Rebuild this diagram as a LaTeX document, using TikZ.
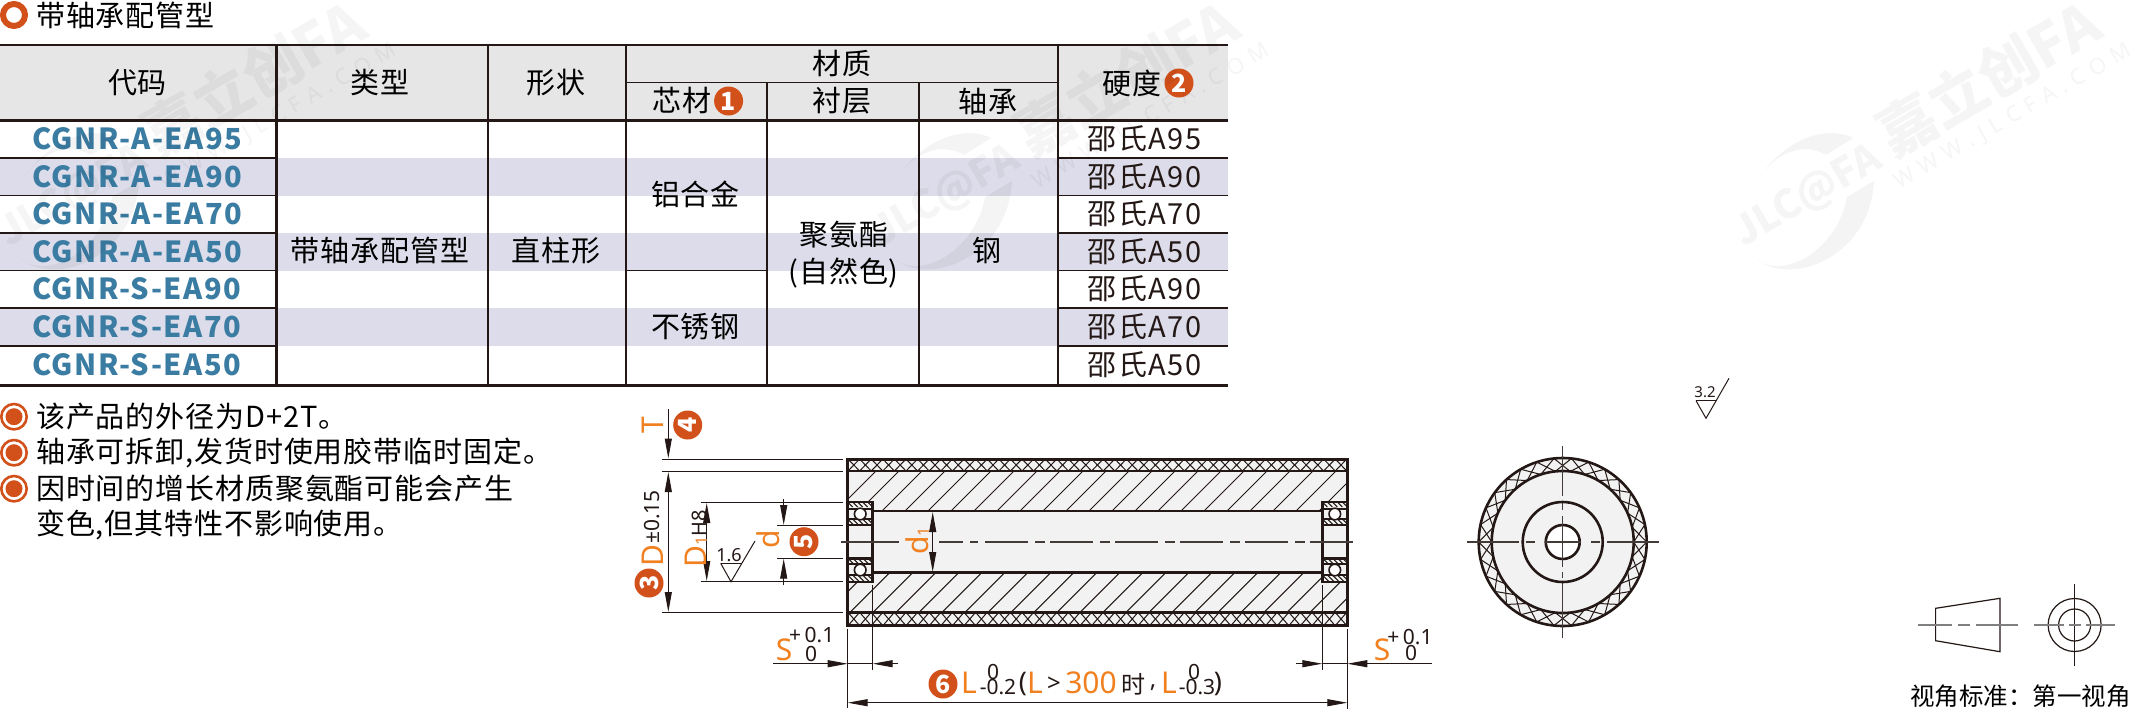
\documentclass[tikz,border=0pt]{standalone}
\usepackage{fontspec}
\usetikzlibrary{arrows.meta}
\setmainfont[LetterSpace=3]{Noto Sans CJK SC}
\newfontfamily\cjkplain{Noto Sans CJK SC}
\newfontfamily\lat{Noto Sans}
\newfontfamily\codef[LetterSpace=5]{Noto Sans CJK SC}
\newfontfamily\hardf[LetterSpace=5]{Noto Sans CJK SC}
\newfontfamily\wmspaced[LetterSpace=35]{Noto Sans}
\newcommand{\fsz}[1]{\fontsize{#1}{#1}\selectfont}
\definecolor{ink}{HTML}{231815}
\definecolor{headg}{HTML}{E6E6E6}
\definecolor{rowb}{HTML}{DCDCEA}
\definecolor{partg}{HTML}{F2F2F2}
\definecolor{badge}{HTML}{D2501A}
\definecolor{dimo}{HTML}{F08020}
\definecolor{codeb}{HTML}{3B7CA3}
\tikzset{
  cell/.style={font=\fsz{29},text=black,inner sep=0pt},
  hardcell/.style={font=\hardf\fsz{29},text=ink,inner sep=0pt},
  codecell/.style={font=\codef\bfseries\fsz{29},text=codeb,anchor=west,inner sep=0pt},
  note/.style={font=\fsz{29},text=black,anchor=west,inner sep=0pt},
  badgenum/.style={circle,fill=badge,text=white,minimum size=29pt,inner sep=0pt,font=\cjkplain\bfseries\fsz{25}},
  labelo/.style={font=\lat\fsz{30},text=dimo,inner sep=0pt},
  tol/.style={font=\lat\fsz{21},text=ink,inner sep=0pt},
  tblthin/.style={draw=ink,line width=1.4pt},
  tblbold/.style={draw=ink,line width=3pt},
  outline/.style={draw=ink,line width=2.6pt},
  hatchline/.style={draw=ink,line width=1pt},
  dimline/.style={draw=ink,line width=1pt,>={Triangle[length=20pt,width=7pt]}},
  centerl/.style={draw=ink!85,line width=1.2pt},
  wmtext/.style={text=black,text opacity=0.04,inner sep=0pt,rotate=30},
}
\newcommand{\wmark}[2]{%
  \begin{scope}[shift={(#2,0)}]
    \fill[black,fill opacity=0.045] (1753,188) .. controls (1777,143) and (1823,123) .. (1853,138) -- (1826,155) .. controls (1800,140) and (1770,155) .. (1753,188) -- cycle;
    \fill[black,fill opacity=0.045] (1752,255) .. controls (1785,290) and (1870,260) .. (1874,181) -- (1847,197) .. controls (1838,250) and (1780,285) .. (1752,255) -- cycle;
    \node[wmtext,font=\cjkplain\bfseries\fsz{40}] (wmlogo#1) at (1808,197) {JLC@FA};
    \node[wmtext,font=\cjkplain\bfseries\fsz{58}] (wmname#1) at (1988,78) {嘉立创FA};
    \node[wmtext,font=\wmspaced\fsz{22}] (wmurl#1) at (2013,117) {WWW.JLCFA.COM};
  \end{scope}}
\newcommand{\bearing}[2]{%
  % #1 left x, #2 right x
  \fill[partg] (#1,502) rectangle (#2,582);
  \begin{scope}
    \clip (#1,502) rectangle (#2,509) (#1,519) rectangle (#2,525) (#1,558.5) rectangle (#2,564) (#1,575) rectangle (#2,582);
    \foreach \k in {-2,...,14} {
      \draw[hatchline] ({#1+5*\k},502) -- ++(5,5);
      \draw[hatchline] ({#1+5*\k},509) -- ++(6,6);
      \draw[hatchline] ({#1+5*\k},519) -- ++(6,6);
      \draw[hatchline] ({#1+5*\k},558) -- ++(6,6);
      \draw[hatchline] ({#1+5*\k},575) -- ++(7,7);
    }
  \end{scope}
  \draw[draw=ink,line width=1.2pt] (#1,509) -- (#2,509) (#1,519) -- (#2,519) (#1,564) -- (#2,564) (#1,575) -- (#2,575);
  \draw[outline,fill=none] (#1,502) rectangle (#2,582);
  \draw[outline] (#1,525) -- (#2,525) (#1,558.7) -- (#2,558.7);
  \draw[draw=ink,line width=1.6pt,fill=white] ({(#1+#2)/2},514) circle[radius=5.8pt];
  \draw[draw=ink,line width=1.6pt,fill=white] ({(#1+#2)/2},570) circle[radius=5.8pt];
}
\begin{document}
\begin{tikzpicture}[x=1pt,y=-1pt]
\useasboundingbox (0,0) rectangle (2132,713);
\fill[white] (0,0) rectangle (2132,713);

% title
\draw[draw=badge,line width=6pt,fill=white] (14,15) circle[radius=11pt];
\node[note] (title) at (36,15) {带轴承配管型};

% table backgrounds
\fill[headg] (0,45) rectangle (1228,120);
\fill[rowb] (0,158) rectangle (1228,195.5);
\fill[rowb] (0,233) rectangle (1228,270.5);
\fill[rowb] (0,308) rectangle (1228,346);

% table lines
\foreach \y in {158,195.5,233,270.5,308,346} {
  \draw[tblthin] (0,\y) -- (276,\y);
  \draw[tblthin] (1058,\y) -- (1228,\y);
}
\draw[tblthin] (626,270.5) -- (767,270.5);
\draw[tblthin] (626,82.7) -- (1058,82.7);
\draw[tblthin] (488,45) -- (488,385);
\draw[tblthin] (626,45) -- (626,385);
\draw[tblthin] (767,82.7) -- (767,385);
\draw[tblthin] (919,82.7) -- (919,385);
\draw[tblthin] (1058,45) -- (1058,385);
\draw[tblbold] (276,45) -- (276,385);
\draw[draw=ink,line width=2.2pt] (0,45) -- (1228,45);
\draw[tblbold] (0,120) -- (1228,120);
\draw[tblbold] (0,385) -- (1228,385);

% header
\node[cell] (h1) at (137.5,82.7) {代码};
\node[cell] (h2) at (380,82.7) {类型};
\node[cell] (h3) at (556,82.7) {形状};
\node[cell] (h4) at (841.6,63.5) {材质};
\node[cell] (h5) at (682,100.7) {芯材};
\node[badgenum] (b1) at (728.6,101) {1};
\node[cell] (h6) at (841.6,101) {衬层};
\node[cell] (h7) at (988,101) {轴承};
\node[cell] (h8) at (1132,83) {硬度};
\node[badgenum] (b2) at (1179,83) {2};

% rows
\foreach \i/\y/\c/\h in {1/139/CGNR-A-EA95/A95,2/176.8/CGNR-A-EA90/A90,3/214/CGNR-A-EA70/A70,4/252/CGNR-A-EA50/A50,5/289/CGNR-S-EA90/A90,6/327/CGNR-S-EA70/A70,7/365/CGNR-S-EA50/A50} {
  \node[codecell] (code\i) at (32,\y) {\c};
  \node[hardcell] (hard\i) at (1144.5,\y-0.5) {邵氏\h};
}
\node[cell] (type) at (380,250.7) {带轴承配管型};
\node[cell] (shape) at (556,251) {直柱形};
\node[cell] (m1) at (695.5,194) {铝合金};
\node[cell] (m2) at (695.5,327) {不锈钢};
\node[cell] (m3) at (843.7,235) {聚氨酯};
\node[cell] (m4) at (843.7,273) {(自然色)};
\node[cell] (m5) at (987,250.7) {钢};

% notes
\foreach \y in {416.7,452.7,488.7} {
  \draw[draw=badge,line width=2.6pt,fill=white] (14,\y) circle[radius=12.7pt];
  \fill[badge] (14,\y) circle[radius=8.5pt];
}
\node[note] (n1) at (36,416.7) {该产品的外径为D+2T。};
\node[note] (n2) at (36,452.7) {轴承可拆卸,发货时使用胶带临时固定。};
\node[note] (n3) at (36,488.7) {因时间的增长材质聚氨酯可能会产生};
\node[note] (n4) at (36,525) {变色,但其特性不影响使用。};

% --- section view ---
\fill[partg] (847.7,459.3) rectangle (1347.3,625.7);
% rubber cross hatch
\begin{scope}
  \clip (847.7,459.3) rectangle (1347.3,471);
  \foreach \k in {0,...,43} {
    \draw[hatchline] ({848+11.6*\k},471) -- ++(11.6,-12);
    \draw[hatchline] ({848+11.6*\k},459) -- ++(11.6,12);
  }
\end{scope}
\begin{scope}
  \clip (847.7,612.3) rectangle (1347.3,625.7);
  \foreach \k in {0,...,43} {
    \draw[hatchline] ({848+11.6*\k},625.7) -- ++(11.6,-13.4);
    \draw[hatchline] ({848+11.6*\k},612.3) -- ++(11.6,13.4);
  }
\end{scope}
% core hatch
\begin{scope}
  \clip (847.7,471) rectangle (1347.3,511);
  \foreach \k in {-8,...,15} \draw[hatchline] ({1020+23*\k},511) -- ++(40,-40);
\end{scope}
\begin{scope}
  \clip (847.7,572.7) rectangle (1347.3,612.3);
  \foreach \k in {-8,...,15} \draw[hatchline] ({1011+23*\k},612.3) -- ++(40,-40);
\end{scope}
\bearing{847.7}{872.7}
\bearing{1322.3}{1347.3}
\draw[outline] (847.7,471) -- (1347.3,471) (847.7,612.3) -- (1347.3,612.3);
\draw[outline] (872.7,511) -- (1322.3,511) (872.7,572.7) -- (1322.3,572.7);
\draw[outline] (847.7,459.3) rectangle (1347.3,625.7);

% centre line
\draw[centerl] (841,542) -- (899,542) (939,542) -- (963,542) (970,542) -- (978,542);
\draw[centerl,dash pattern=on 43pt off 7pt on 10pt off 5pt] (985,542) -- (1353,542);

% dimensions
\foreach \y in {459.3,471,612.5} \draw[dimline] (661.7,\y) -- (843,\y);
\foreach \y in {502.5,581.7} \draw[dimline] (700.7,\y) -- (843,\y);
\foreach \y in {525,558.7} \draw[dimline] (777,\y) -- (843,\y);
\draw[dimline,->] (668.3,409) -- (668.3,458.5);
\draw[dimline,<->] (668.3,472) -- (668.3,612);
\draw[dimline,<->] (706.7,503) -- (706.7,581);
\draw[dimline,->] (783.7,499) -- (783.7,525);
\draw[dimline,->] (783.7,585) -- (783.7,558.7);
\draw[dimline,<->] (932.7,512) -- (932.7,572);

\draw[dimline] (847.7,628.7) -- (847.7,708);
\draw[dimline] (872.7,585) -- (872.7,670);
\draw[dimline] (1322.3,585) -- (1322.3,670);
\draw[dimline] (1347.3,629) -- (1347.3,709);
\draw[dimline,->] (773,663.7) -- (847.7,663.7);
\draw[dimline,->] (898,663.7) -- (872.7,663.7);
\draw[dimline] (847.7,663.7) -- (872.7,663.7);
\draw[dimline,->] (1296,663.7) -- (1322.3,663.7);
\draw[dimline,->] (1431.7,663.7) -- (1347.3,663.7);
\draw[dimline] (1322.3,663.7) -- (1347.3,663.7);
\draw[dimline,<->] (847.7,702.7) -- (1347.3,702.7);

% surface symbol 1.6
\draw[draw=ink,line width=1pt] (720.7,563.3) -- (741.7,563.3);
\draw[draw=ink,line width=1pt] (720.7,563.3) -- (731,581.7) -- (755,541);
\node[tol,font=\lat\fsz{18}] (r16) at (729,555) {1.6};

% labels
\node[labelo,rotate=90] (lT) at (653,425) {T};
\node[badgenum,rotate=90] (b4) at (687.7,425) {4};
\node[labelo,rotate=90,anchor=west] (lD) at (653,567) {D\kern1pt\raisebox{4pt}{\textcolor{ink}{\fsz{21}±0.15}}};
\node[badgenum,rotate=90] (b3) at (649,583) {3};
\node[labelo,rotate=90,anchor=west] (lD1) at (696,568) {D\raisebox{-1pt}{\fsz{16}1}\textcolor{ink}{\fsz{20}H8}};
\node[labelo,rotate=90] (ld) at (768,539) {d};
\node[badgenum,rotate=90] (b5) at (804,541.7) {5};
\node[labelo,rotate=90] (ld1) at (918,541) {d\raisebox{-1pt}{\fsz{16}1}};

\node[labelo] (S1) at (784,650) {S};
\node[tol] (S1a) at (811.7,635) {+\,0.1};
\node[tol] (S1b) at (811,654) {0};
\node[labelo] (S2) at (1382,650) {S};
\node[tol] (S2a) at (1410,636.7) {+\,0.1};
\node[tol] (S2b) at (1411,653) {0};

\node[badgenum] (b6) at (943,684) {6};
\node[labelo] (L1) at (969,683) {L};
\node[tol] (L1a) at (993,672) {0};
\node[tol] (L1b) at (998,687) {-0.2};
\node[tol,font=\lat\fsz{27}] (p1) at (1023,684) {(};
\node[labelo] (L2) at (1035,683) {L};
\node[tol,font=\lat\fsz{24}] (gt) at (1054,684) {>};
\node[labelo] (v300) at (1091,683) {300};
\node[tol,font=\cjkplain\fsz{24}] (shi) at (1133,684) {时};
\node[tol,font=\lat\fsz{24}] (comma) at (1153,688) {,};
\node[labelo] (L3) at (1169,683) {L};
\node[tol] (L3a) at (1194,672) {0};
\node[tol] (L3b) at (1197,687) {-0.3};
\node[tol,font=\lat\fsz{27}] (p2) at (1218,684) {)};

% surface symbol 3.2
\node[tol,font=\lat\fsz{15}] (r32) at (1705,392) {3.2};
\draw[draw=ink,line width=1pt] (1696,400.7) -- (1716.7,400.7);
\draw[draw=ink,line width=1pt] (1696,400.7) -- (1706,418.3) -- (1729,378.3);

% --- end view ---
\fill[partg] (1562.7,542) circle[radius=84pt];
\foreach \a in {0,12,...,348} {
  \draw[hatchline] ({1562.7+71*cos(\a)},{542+71*sin(\a)}) -- ({1562.7+84*cos(\a+12)},{542+84*sin(\a+12)});
  \draw[hatchline] ({1562.7+71*cos(\a)},{542+71*sin(\a)}) -- ({1562.7+84*cos(\a-12)},{542+84*sin(\a-12)});
}
\draw[outline] (1562.7,542) circle[radius=84pt];
\draw[outline] (1562.7,542) circle[radius=71pt];
\draw[outline] (1562.7,542) circle[radius=40pt];
\draw[outline,fill=white] (1562.7,542) circle[radius=17pt];
\draw[centerl] (1466.5,542) -- (1518.5,542) (1526,542) -- (1535,542) (1545,542) -- (1581,542) (1591,542) -- (1600,542) (1607,542) -- (1658.5,542);
\draw[centerl] (1562.7,446) -- (1562.7,496) (1562.7,503) -- (1562.7,510) (1562.7,516) -- (1562.7,567) (1562.7,572) -- (1562.7,578) (1562.7,583) -- (1562.7,637.7);

% --- projection symbol ---
\draw[draw=ink,line width=1.2pt] (1935.6,608.3) -- (2000,598.3) -- (2000,651.7) -- (1935.6,640.7) -- cycle;
\draw[draw=ink,line width=1.2pt] (2074.6,625) circle[radius=26.5pt];
\draw[draw=ink,line width=1.2pt] (2074.6,625) circle[radius=16pt];
\draw[draw=ink,line width=1pt] (2074.6,584.3) -- (2074.6,665.7);
\draw[draw=gray,line width=1.6pt] (1917.5,625) -- (1952,625) (1958,625) -- (1970,625) (1976,625) -- (2018,625);
\draw[draw=gray,line width=1.6pt] (2033.5,625) -- (2064,625) (2069,625) -- (2081,625) (2086,625) -- (2115,625);
\node[inner sep=0pt,anchor=west,font=\cjkplain\fsz{24.5},text=black] (proj) at (1910,696.7) {视角标准：第一视角};

% watermarks
\wmark{a}{0}
\wmark{b}{-862}
\wmark{c}{-1735}
\end{tikzpicture}
\end{document}
